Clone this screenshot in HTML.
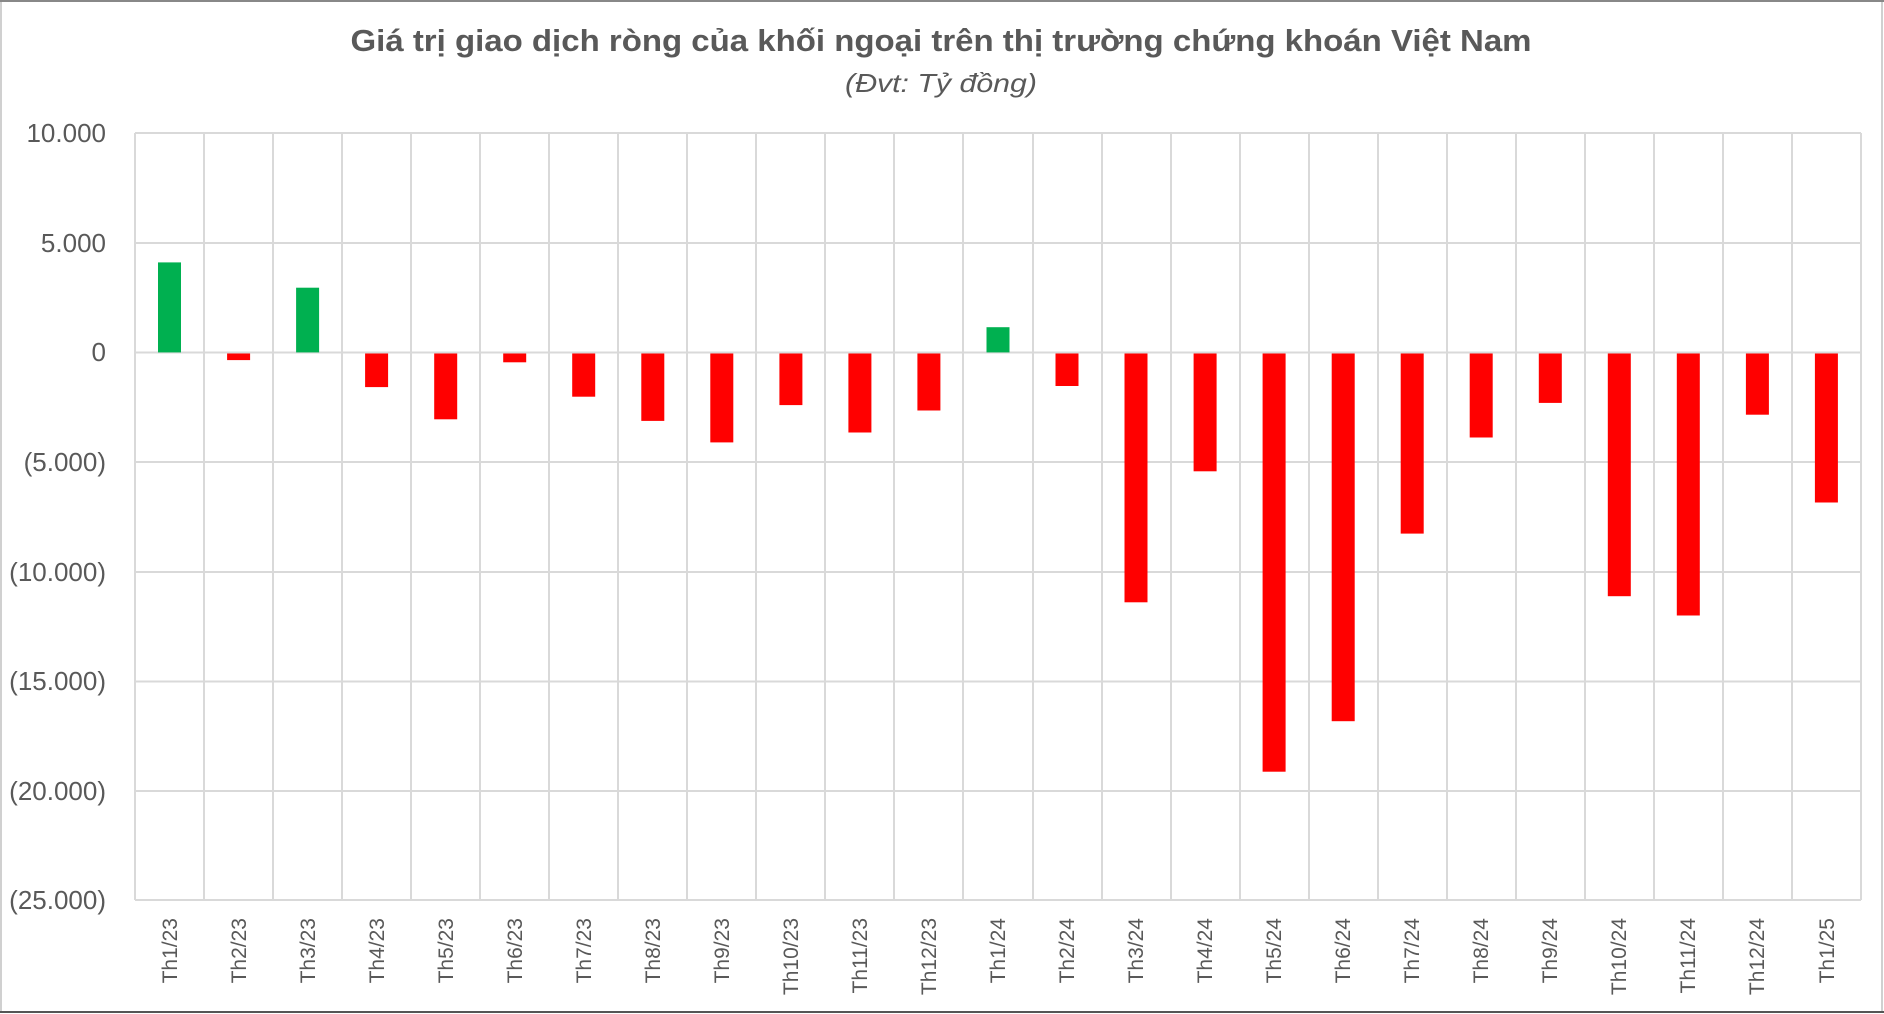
<!DOCTYPE html>
<html><head><meta charset="utf-8"><style>
html,body{margin:0;padding:0;background:#fff}
svg{display:block}
</style></head><body>
<svg width="1884" height="1014" viewBox="0 0 1884 1014" xmlns="http://www.w3.org/2000/svg" font-family="'Liberation Sans', 'DejaVu Sans', sans-serif">
<rect x="0" y="0" width="1884" height="1014" fill="#fff"/>
<rect x="1" y="1" width="1881" height="1011" fill="none" stroke="#d0d0d0" stroke-width="2"/>
<line x1="0" y1="1012" x2="1884" y2="1012" stroke="#555" stroke-width="2"/>
<line x1="0" y1="1" x2="1884" y2="1" stroke="#888" stroke-width="2"/>
<text x="941" y="51" text-anchor="middle" font-size="31" font-weight="bold" fill="#595959" textLength="1181" lengthAdjust="spacingAndGlyphs">Giá trị giao dịch ròng của khối ngoại trên thị trường chứng khoán Việt Nam</text>
<text x="941" y="92" text-anchor="middle" font-size="26" font-style="italic" fill="#595959" textLength="192" lengthAdjust="spacingAndGlyphs">(Đvt: Tỷ đồng)</text>
<g stroke="#d9d9d9" stroke-width="2">
<line x1="135" y1="133" x2="1861" y2="133"/>
<line x1="135" y1="243" x2="1861" y2="243"/>
<line x1="135" y1="352.5" x2="1861" y2="352.5"/>
<line x1="135" y1="462" x2="1861" y2="462"/>
<line x1="135" y1="572" x2="1861" y2="572"/>
<line x1="135" y1="681.5" x2="1861" y2="681.5"/>
<line x1="135" y1="791" x2="1861" y2="791"/>
<line x1="135" y1="900" x2="1861" y2="900"/>
<line x1="135" y1="133" x2="135" y2="900"/><line x1="204" y1="133" x2="204" y2="900"/><line x1="273" y1="133" x2="273" y2="900"/><line x1="342" y1="133" x2="342" y2="900"/><line x1="411" y1="133" x2="411" y2="900"/><line x1="480" y1="133" x2="480" y2="900"/><line x1="549" y1="133" x2="549" y2="900"/><line x1="618" y1="133" x2="618" y2="900"/><line x1="687" y1="133" x2="687" y2="900"/><line x1="756" y1="133" x2="756" y2="900"/><line x1="825" y1="133" x2="825" y2="900"/><line x1="894" y1="133" x2="894" y2="900"/><line x1="963" y1="133" x2="963" y2="900"/><line x1="1033" y1="133" x2="1033" y2="900"/><line x1="1102" y1="133" x2="1102" y2="900"/><line x1="1171" y1="133" x2="1171" y2="900"/><line x1="1240" y1="133" x2="1240" y2="900"/><line x1="1309" y1="133" x2="1309" y2="900"/><line x1="1378" y1="133" x2="1378" y2="900"/><line x1="1447" y1="133" x2="1447" y2="900"/><line x1="1516" y1="133" x2="1516" y2="900"/><line x1="1585" y1="133" x2="1585" y2="900"/><line x1="1654" y1="133" x2="1654" y2="900"/><line x1="1723" y1="133" x2="1723" y2="900"/><line x1="1792" y1="133" x2="1792" y2="900"/><line x1="1861" y1="133" x2="1861" y2="900"/>
</g>
<g font-size="26" fill="#595959" text-anchor="end">
<text x="106" y="142">10.000</text>
<text x="106" y="252">5.000</text>
<text x="106" y="361">0</text>
<text x="106" y="471">(5.000)</text>
<text x="106" y="581">(10.000)</text>
<text x="106" y="690">(15.000)</text>
<text x="106" y="800">(20.000)</text>
<text x="106" y="909">(25.000)</text>
</g>
<g fill="#00b050">
<rect x="158" y="262.4" width="23" height="90"/>
<rect x="296.1" y="287.7" width="23" height="64.7"/>
<rect x="986.5" y="327.2" width="23" height="25.2"/>
</g>
<g fill="#ff0000">
<rect x="227.1" y="353.5" width="23" height="6.6"/>
<rect x="365.1" y="353.5" width="23" height="33.6"/>
<rect x="434.2" y="353.5" width="23" height="65.8"/>
<rect x="503.2" y="353.5" width="23" height="8.8"/>
<rect x="572.2" y="353.5" width="23" height="43.2"/>
<rect x="641.3" y="353.5" width="23" height="67.4"/>
<rect x="710.3" y="353.5" width="23" height="88.9"/>
<rect x="779.4" y="353.5" width="23" height="51.6"/>
<rect x="848.4" y="353.5" width="23" height="79"/>
<rect x="917.4" y="353.5" width="23" height="57"/>
<rect x="1055.5" y="353.5" width="23" height="32.5"/>
<rect x="1124.5" y="353.5" width="23" height="248.8"/>
<rect x="1193.6" y="353.5" width="23" height="117.8"/>
<rect x="1262.6" y="353.5" width="23" height="418.2"/>
<rect x="1331.7" y="353.5" width="23" height="367.7"/>
<rect x="1400.7" y="353.5" width="23" height="180.1"/>
<rect x="1469.7" y="353.5" width="23" height="84"/>
<rect x="1538.8" y="353.5" width="23" height="49.4"/>
<rect x="1607.8" y="353.5" width="23" height="242.7"/>
<rect x="1676.8" y="353.5" width="23" height="262"/>
<rect x="1745.9" y="353.5" width="23" height="61.2"/>
<rect x="1814.9" y="353.5" width="23" height="149"/>
</g>
<g font-size="21" fill="#595959" text-anchor="end">
<text transform="translate(177,918) rotate(-90)">Th1/23</text>
<text transform="translate(246,918) rotate(-90)">Th2/23</text>
<text transform="translate(315,918) rotate(-90)">Th3/23</text>
<text transform="translate(384,918) rotate(-90)">Th4/23</text>
<text transform="translate(453,918) rotate(-90)">Th5/23</text>
<text transform="translate(522,918) rotate(-90)">Th6/23</text>
<text transform="translate(591,918) rotate(-90)">Th7/23</text>
<text transform="translate(660,918) rotate(-90)">Th8/23</text>
<text transform="translate(729,918) rotate(-90)">Th9/23</text>
<text transform="translate(798,918) rotate(-90)">Th10/23</text>
<text transform="translate(867,918) rotate(-90)">Th11/23</text>
<text transform="translate(936,918) rotate(-90)">Th12/23</text>
<text transform="translate(1005,918) rotate(-90)">Th1/24</text>
<text transform="translate(1074,918) rotate(-90)">Th2/24</text>
<text transform="translate(1143,918) rotate(-90)">Th3/24</text>
<text transform="translate(1212,918) rotate(-90)">Th4/24</text>
<text transform="translate(1281,918) rotate(-90)">Th5/24</text>
<text transform="translate(1350,918) rotate(-90)">Th6/24</text>
<text transform="translate(1419,918) rotate(-90)">Th7/24</text>
<text transform="translate(1488,918) rotate(-90)">Th8/24</text>
<text transform="translate(1557,918) rotate(-90)">Th9/24</text>
<text transform="translate(1626,918) rotate(-90)">Th10/24</text>
<text transform="translate(1695,918) rotate(-90)">Th11/24</text>
<text transform="translate(1764,918) rotate(-90)">Th12/24</text>
<text transform="translate(1834,918) rotate(-90)">Th1/25</text>
</g>
</svg>
</body></html>
